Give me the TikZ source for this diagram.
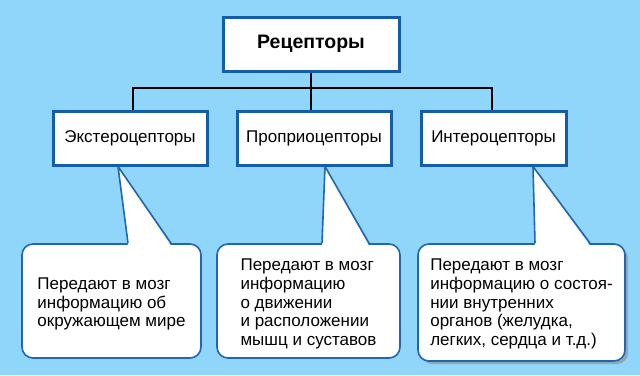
\documentclass[tikz,border=0pt]{standalone}
\usepackage{fontspec}
\setmainfont{Liberation Sans}
\usetikzlibrary{positioning,backgrounds,shadows}
\definecolor{skyback}{RGB}{143,214,250}
\definecolor{boxblue}{RGB}{20,92,172}
\definecolor{tipblue}{RGB}{32,102,178}
\tikzset{
  head/.style={draw=boxblue, fill=white, line width=3pt, minimum height=54pt,
               inner sep=0pt, font=\fontsize{17}{20}\selectfont},
  note/.style={draw=tipblue, fill=white, line width=1.6pt, rounded corners=11pt,
               inner sep=0pt},
  notetext/.style={align=left, inner sep=0pt, font=\fontsize{17}{18.8}\selectfont},
  link/.style={draw=black, line width=2pt},
  tailfill/.style={fill=white},
  tailline/.style={draw=tipblue, line width=1.6pt, line join=miter},
}

\begin{document}
\begin{tikzpicture}[x=1pt, y=-1pt, node distance=27pt]
  \useasboundingbox (0,0) rectangle (640,375);
  % top and second row
  \node[head, minimum width=176pt, font=\bfseries\fontsize{19.5}{22}\selectfont] (root) at (311,44) {Рецепторы};
  \node[head, minimum width=154pt] (ext) at (130,138) {Экстероцепторы};
  \node[head, minimum width=154pt, right=of ext] (prop) {Проприоцепторы};
  \node[head, minimum width=145pt, right=of prop] (inter) {Интероцепторы};
  \begin{scope}[on background layer]
    \fill[skyback] (0,0) rectangle (640,375);
    \coordinate (bus) at (0,88);
    \draw[link] (root.south) -- (root.south |- prop.north);
    \draw[link] ([xshift=3pt]ext.north) -- ([xshift=3pt]ext.north |- bus)
      -- ([xshift=-1.5pt]inter.north |- bus) -- ([xshift=-1.5pt]inter.north);
    % callouts
    \node[note, minimum width=179pt, minimum height=114pt] (c1) at (111.5,301) {};
    \node[note, minimum width=183pt, minimum height=114pt] (c2) at (308.5,301) {};
    \node[note, minimum width=207pt, minimum height=117pt,
          drop shadow={shadow xshift=3pt, shadow yshift=-3pt, fill=black!45, opacity=.6}] (c3) at (521.5,302.5) {};
    % tails
    \foreach \hb/\nb/\ap/\bl/\br in {ext/c1/-12/16.5/59.5, prop/c2/11/13.5/60.5, inter/c3/39.5/13.5/68.5} {
      \fill[tailfill] ([xshift=\bl pt, yshift=-2.5pt]\nb.north) -- ([xshift=\ap pt]\hb.south)
        -- ([xshift=\br pt, yshift=-2.5pt]\nb.north) -- cycle;
      \draw[tailline] ([xshift=\bl pt]\nb.north) -- ([xshift=\ap pt]\hb.south)
        -- ([xshift=\br pt]\nb.north);
    }
  \end{scope}
  \node[notetext] (c1t) at ([yshift=-3pt]c1.center) {Передают в мозг\\информацию об\\окружающем мире};
  \node[notetext] (c2t) at ([yshift=-3pt]c2.center) {Передают в мозг\\информацию\\о движении\\и расположении\\мышц и суставов};
  \node[notetext] (c3t) at ([yshift=-1.5pt]c3.center) {Передают в мозг\\информацию о состоя-\\нии внутренних\\органов (желудка,\\легких, сердца и т.д.)};
\end{tikzpicture}
\end{document}
